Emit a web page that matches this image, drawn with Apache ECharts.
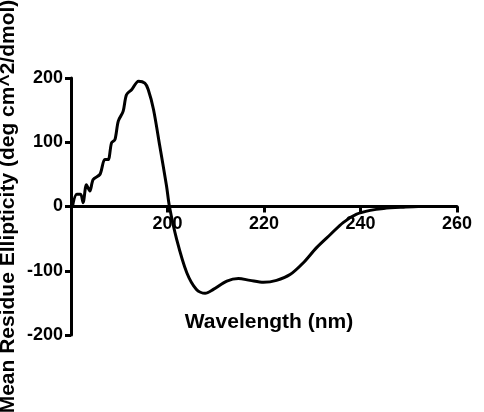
<!DOCTYPE html>
<html>
<head>
<meta charset="utf-8">
<script src="https://cdn.jsdelivr.net/npm/echarts@6/dist/echarts.min.js"></script>
<style>
  html, body { margin: 0; padding: 0; background: #fff; }
  #chart { width: 484px; height: 412px; }
</style>
</head>
<body>
<div id="chart"></div>
<script>
// wavelength (nm) and mean residue ellipticity
const wavelength = [180.3, 181.2, 182, 182.5, 183.2, 183.9, 184.6, 186, 187, 187.7, 188.4, 189.1, 189.8, 190.8, 191.5, 192.6, 194, 195.3, 196, 197.1, 198.4, 199.8, 200.4, 201.9, 204, 206, 207.8, 209.5, 212.3, 214.7, 217.1, 219.9, 222.6, 225.4, 228.1, 230.9, 233.7, 236.4, 239.2, 242, 244.8, 248.9, 252, 256, 260]
const ellipticity = [0, 19, 19, 6, 34, 24, 42, 50, 73, 73, 99, 104, 133, 148, 174, 182, 195, 192, 182, 151, 94, 32, 0, -51, -103, -129, -135, -129, -116, -112, -115, -118, -115, -106, -88, -64, -44, -25, -12, -6, -3, -1, 0, 0, 0]
const xTicks = [200, 220, 240, 260]

const chart = echarts.init(document.getElementById('chart'))

const font = 'Liberation Sans, Arial, sans-serif'

// x axis sits on y = 0, i.e. half way up the plot area
const gridTop = 78
const gridBottom = 77
const zeroOffset = -(412 - gridTop - gridBottom) / 2

const option = {
  animation: false,
  grid: {
    left: 71,
    right: 27,
    top: gridTop,
    bottom: gridBottom,
    outerBoundsMode: 'none'
  },
  xAxis: {
    type: 'value',
    min: 180,
    max: 260,
    interval: 20,
    position: 'bottom',
    offset: zeroOffset,
    name: 'Wavelength (nm)',
    nameLocation: 'middle',
    nameGap: 105,
    nameMoveOverlap: false,
    nameTextStyle: {
      fontFamily: font,
      fontWeight: 'bold',
      fontSize: 21,
      color: '#000',
      padding: [0, 0, 0, 10]
    },
    axisLine: {
      onZero: false,
      lineStyle: { color: '#000', width: 3 }
    },
    axisTick: {
      length: 6,
      lineStyle: { color: '#000', width: 3 }
    },
    axisLabel: {
      margin: 9,
      fontFamily: font,
      fontWeight: 'bold',
      fontSize: 18,
      color: '#000',
      formatter: v => xTicks.includes(v) ? String(v) : ''
    },
    splitLine: { show: false }
  },
  yAxis: {
    type: 'value',
    min: -200,
    max: 200,
    interval: 100,
    name: 'Mean Residue Ellipticity (deg cm^2/dmol)',
    nameLocation: 'middle',
    nameGap: 52,
    nameMoveOverlap: false,
    nameTextStyle: {
      fontFamily: font,
      fontWeight: 'bold',
      fontSize: 21,
      color: '#000'
    },
    axisLine: {
      show: true,
      lineStyle: { color: '#000', width: 3 }
    },
    axisTick: {
      show: true,
      length: 6,
      lineStyle: { color: '#000', width: 3 }
    },
    axisLabel: {
      margin: 8,
      fontFamily: font,
      fontWeight: 'bold',
      fontSize: 18,
      color: '#000'
    },
    splitLine: { show: false }
  },
  series: [
    {
      type: 'line',
      data: wavelength.map((w, i) => [w, ellipticity[i]]),
      showSymbol: false,
      smooth: 0.3,
      lineStyle: { color: '#000', width: 3 }
    }
  ]
}

chart.setOption(option)
</script>
</body>
</html>
